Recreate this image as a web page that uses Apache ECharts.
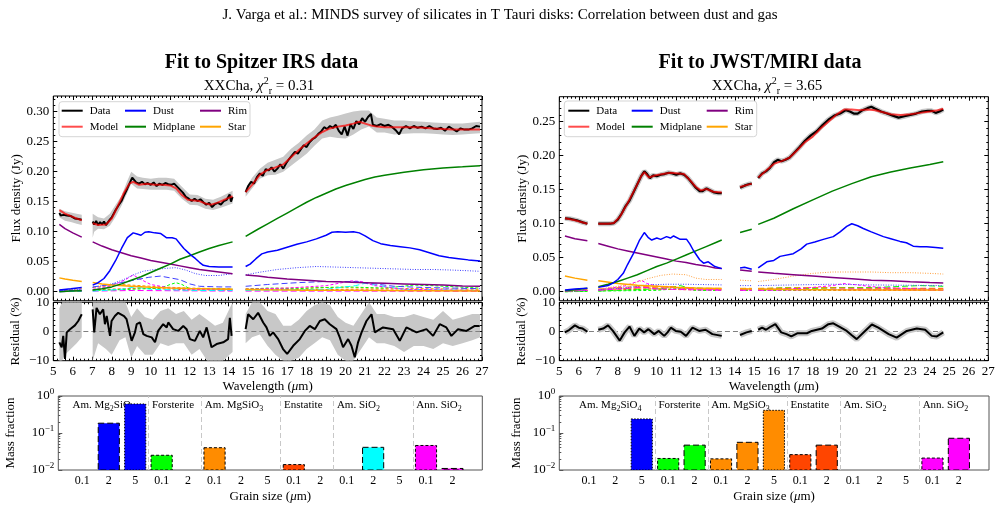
<!DOCTYPE html>
<html>
<head>
<meta charset="utf-8">
<script src="https://cdn.jsdelivr.net/npm/echarts@6/dist/echarts.min.js"></script>
<style>html,body{margin:0;padding:0;background:#fff}#main{width:1001px;height:510px}</style>
</head>
<body>
<div id="main"></div>
<script>
var FONT = '"Liberation Serif","Times New Roman",serif';

// ---------------- Spitzer IRS (left) ----------------
// [wavelength (um), flux (Jy)], null = gap in the spectrum
var dataL = [[5.31,0.131],[5.38,0.127],[5.45,0.124],[5.52,0.128],[5.6,0.125],[5.7,0.127],[5.8,0.124],[5.9,0.126],[6.0,0.124],[6.1,0.122],[6.2,0.123],[6.3,0.121],[6.46,0.12],null,
  [7.02,0.117],[7.1,0.112],[7.2,0.118],[7.3,0.111],[7.4,0.116],[7.5,0.112],[7.6,0.117],[7.7,0.111],[7.8,0.114],[7.9,0.12],[8.0,0.124],[8.1,0.13],[8.2,0.136],[8.35,0.144],[8.5,0.151],[8.65,0.162],[8.8,0.172],[8.95,0.183],[9.05,0.19],[9.15,0.188],[9.25,0.182],[9.4,0.18],[9.55,0.183],[9.7,0.179],[9.85,0.181],[10.0,0.178],[10.15,0.182],[10.3,0.176],[10.45,0.18],[10.6,0.178],[10.75,0.181],[10.9,0.179],[11.05,0.178],[11.2,0.18],[11.35,0.175],[11.5,0.17],[11.65,0.165],[11.8,0.158],[11.95,0.155],[12.1,0.151],[12.25,0.155],[12.4,0.151],[12.55,0.154],[12.7,0.149],[12.85,0.145],[13.0,0.148],[13.15,0.141],[13.3,0.146],[13.45,0.148],[13.6,0.145],[13.75,0.151],[13.9,0.153],[14.05,0.162],[14.12,0.15],[14.2,0.158],null,
  [14.87,0.166],[15.0,0.176],[15.15,0.183],[15.3,0.18],[15.45,0.191],[15.6,0.197],[15.75,0.193],[15.9,0.204],[16.05,0.202],[16.2,0.207],[16.35,0.2],[16.5,0.205],[16.65,0.212],[16.8,0.205],[16.95,0.214],[17.1,0.221],[17.25,0.227],[17.4,0.233],[17.55,0.23],[17.7,0.237],[17.85,0.244],[18.0,0.241],[18.15,0.249],[18.3,0.254],[18.45,0.257],[18.6,0.263],[18.75,0.267],[18.9,0.274],[19.05,0.271],[19.2,0.276],[19.35,0.273],[19.5,0.278],[19.65,0.268],[19.8,0.262],[19.95,0.275],[20.1,0.26],[20.25,0.279],[20.4,0.271],[20.55,0.284],[20.7,0.279],[20.85,0.289],[21.0,0.283],[21.15,0.291],[21.3,0.296],[21.4,0.278],[21.6,0.276],[21.8,0.279],[22.0,0.276],[22.2,0.278],[22.4,0.274],[22.6,0.268],[22.75,0.262],[22.9,0.272],[23.1,0.276],[23.3,0.272],[23.5,0.276],[23.7,0.273],[23.9,0.275],[24.1,0.272],[24.3,0.276],[24.5,0.272],[24.7,0.271],[24.9,0.273],[25.1,0.268],[25.3,0.275],[25.5,0.271],[25.7,0.267],[25.9,0.272],[26.1,0.27],[26.3,0.27],[26.5,0.272],[26.7,0.276],[26.9,0.275]];
var modelL = [[5.31,0.136],[5.6,0.13],[5.9,0.126],[6.2,0.122],[6.46,0.119],null,
  [7.02,0.114],[7.3,0.111],[7.7,0.112],[8.0,0.122],[8.3,0.142],[8.6,0.163],[8.9,0.18],[9.1,0.183],[9.4,0.178],[9.8,0.18],[10.2,0.178],[10.6,0.178],[11.0,0.177],[11.3,0.172],[11.6,0.161],[11.9,0.153],[12.2,0.152],[12.5,0.151],[12.8,0.147],[13.1,0.145],[13.4,0.148],[13.7,0.152],[14.2,0.159],null,
  [14.87,0.166],[15.2,0.178],[15.6,0.195],[16.0,0.203],[16.4,0.207],[16.8,0.212],[17.2,0.224],[17.6,0.236],[18.0,0.247],[18.4,0.257],[18.8,0.266],[19.2,0.272],[19.6,0.275],[20.0,0.277],[20.4,0.28],[20.7,0.283],[21.0,0.28],[21.3,0.277],[21.6,0.275],[22.0,0.274],[22.5,0.274],[23.0,0.274],[23.5,0.274],[24.0,0.273],[24.5,0.272],[25.0,0.271],[25.5,0.27],[26.0,0.27],[26.5,0.27],[26.9,0.27]];
// [wavelength, low, high] of the grey uncertainty band
var bandL = [[5.31,0.124,0.138],[5.6,0.118,0.134],[5.9,0.116,0.132],[6.2,0.113,0.13],[6.46,0.111,0.128],null,
  [7.02,0.09,0.13],[7.1,0.1,0.128],[7.3,0.105,0.124],[7.6,0.104,0.122],[7.9,0.11,0.13],[8.2,0.125,0.145],[8.5,0.143,0.16],[8.8,0.165,0.185],[9.0,0.18,0.2],[9.3,0.172,0.192],[9.6,0.171,0.19],[10.0,0.17,0.188],[10.4,0.17,0.19],[10.8,0.17,0.19],[11.2,0.168,0.188],[11.6,0.155,0.175],[12.0,0.145,0.162],[12.4,0.144,0.161],[12.8,0.138,0.155],[13.2,0.136,0.153],[13.6,0.14,0.158],[14.2,0.147,0.168],null,
  [14.87,0.158,0.172],[15.2,0.172,0.19],[15.6,0.188,0.205],[16.0,0.194,0.215],[16.4,0.195,0.22],[16.8,0.2,0.225],[17.2,0.21,0.238],[17.6,0.22,0.248],[18.0,0.23,0.26],[18.4,0.243,0.27],[18.8,0.255,0.285],[19.2,0.258,0.29],[19.6,0.256,0.293],[20.0,0.255,0.297],[20.4,0.262,0.3],[20.8,0.27,0.302],[21.2,0.275,0.302],[21.6,0.265,0.29],[22.0,0.265,0.288],[22.5,0.262,0.285],[23.0,0.263,0.285],[23.5,0.264,0.284],[24.0,0.264,0.283],[24.5,0.263,0.282],[25.0,0.262,0.281],[25.5,0.261,0.28],[26.0,0.262,0.28],[26.5,0.263,0.282],[26.9,0.264,0.283]];
var dustL = [[5.31,0.003],[5.9,0.005],[6.46,0.007],null,
  [7.02,0.011],[7.3,0.015],[7.6,0.022],[7.9,0.035],[8.2,0.052],[8.5,0.072],[8.8,0.09],[9.1,0.098],[9.3,0.096],[9.5,0.094],[9.7,0.099],[9.9,0.1],[10.2,0.098],[10.5,0.097],[10.8,0.09],[11.1,0.09],[11.3,0.088],[11.5,0.08],[11.7,0.072],[11.9,0.066],[12.1,0.06],[12.3,0.055],[12.5,0.049],[12.7,0.044],[13.0,0.042],[13.5,0.041],[14.2,0.041],null,
  [14.87,0.042],[15.1,0.046],[15.4,0.055],[15.7,0.063],[16.0,0.066],[16.5,0.069],[17.0,0.074],[17.5,0.079],[18.0,0.083],[18.5,0.088],[19.0,0.094],[19.3,0.099],[19.6,0.1],[20.0,0.099],[20.4,0.1],[20.7,0.098],[21.0,0.093],[21.4,0.085],[21.8,0.08],[22.3,0.077],[22.8,0.075],[23.3,0.073],[23.8,0.07],[24.3,0.065],[24.8,0.06],[25.3,0.057],[25.8,0.055],[26.3,0.053],[26.9,0.051]];
var midplaneL = [[5.31,0.0],[5.9,0.001],[6.46,0.0015],null,
  [7.02,0.003],[7.5,0.005],[8.0,0.008],[8.5,0.013],[9.0,0.019],[9.5,0.025],[10.0,0.032],[10.5,0.039],[11.0,0.046],[11.5,0.054],[12.0,0.06],[12.5,0.066],[13.0,0.072],[13.5,0.077],[14.2,0.083],null,
  [14.87,0.092],[15.5,0.104],[16.0,0.113],[16.5,0.122],[17.0,0.131],[17.5,0.14],[18.0,0.149],[18.5,0.157],[19.0,0.164],[19.5,0.171],[20.0,0.177],[20.5,0.182],[21.0,0.187],[21.5,0.191],[22.0,0.194],[23.0,0.199],[24.0,0.203],[25.0,0.206],[26.0,0.208],[26.9,0.21]];
var rimL = [[5.31,0.112],[5.6,0.105],[6.0,0.098],[6.46,0.091],null,
  [7.02,0.083],[7.5,0.076],[8.0,0.07],[8.5,0.065],[9.0,0.06],[9.5,0.056],[10.0,0.052],[10.5,0.049],[11.0,0.046],[11.5,0.043],[12.0,0.04],[12.5,0.037],[13.0,0.035],[13.5,0.033],[14.2,0.03],null,
  [14.87,0.028],[15.5,0.026],[16.0,0.024],[17.0,0.021],[18.0,0.019],[19.0,0.017],[20.0,0.016],[21.0,0.015],[22.0,0.014],[23.0,0.013],[24.0,0.012],[25.0,0.011],[26.0,0.0095],[26.9,0.009]];
var starL = [[5.31,0.023],[5.6,0.021],[6.0,0.019],[6.46,0.017],null,
  [7.02,0.0155],[7.5,0.013],[8.0,0.011],[9.0,0.009],[10.0,0.0075],[11.0,0.0063],[12.0,0.0054],[13.0,0.0047],[14.2,0.004],null,
  [14.87,0.0037],[16,0.0032],[18,0.0026],[20,0.0022],[22,0.0018],[24,0.0015],[26.9,0.0012]];
var mg2sio4_2L = [[5.31,0.001],[6.46,0.003],null,[7.02,0.008],[8.0,0.012],[9.1,0.019],[9.9,0.024],[10.5,0.026],[11.0,0.023],[11.5,0.02],[12.0,0.013],[12.5,0.009],[13.5,0.008],[14.2,0.008],null,[14.87,0.009],[16,0.012],[17.5,0.015],[19,0.017],[20.5,0.017],[21.5,0.013],[22.5,0.009],[24,0.007],[25.5,0.006],[26.9,0.005]];
var mg2sio4_5L = [[5.31,0.002],[6.46,0.004],null,[7.02,0.007],[8.0,0.013],[8.6,0.02],[9.1,0.028],[9.6,0.034],[10.2,0.037],[10.8,0.039],[11.3,0.04],[11.8,0.036],[12.3,0.03],[12.8,0.027],[13.5,0.027],[14.2,0.03],null,[14.87,0.028],[15.5,0.032],[16.5,0.037],[17.5,0.04],[18.5,0.042],[19.5,0.041],[20.5,0.04],[21.5,0.039],[22.5,0.038],[23.5,0.037],[24.5,0.037],[25.5,0.036],[26.9,0.034]];
var fo01L = [[5.31,0.001],[6.46,0.002],null,[7.02,0.002],[9,0.004],[10.5,0.006],[11.0,0.012],[11.3,0.015],[11.6,0.012],[12.0,0.005],[14.2,0.004],null,[14.87,0.004],[16,0.006],[17.5,0.005],[19,0.007],[20,0.008],[22,0.006],[23.5,0.011],[24.5,0.01],[26.9,0.006]];
var mgsio3_01L = [[5.31,0.003],[6.46,0.005],null,[7.02,0.007],[8.5,0.012],[9.5,0.01],[10.5,0.008],[12,0.006],[14.2,0.005],null,[14.87,0.005],[17,0.006],[19,0.007],[21,0.006],[24,0.005],[26.9,0.004]];
var en01L = [[5.31,0.001],[6.46,0.002],null,[7.02,0.003],[9.5,0.006],[10.5,0.005],[12,0.003],[14.2,0.003],null,[14.87,0.003],[18,0.004],[21,0.003],[26.9,0.002]];
var sio2_2L = [[5.31,0.0],[6.46,0.001],null,[7.02,0.001],[8.5,0.004],[9.2,0.008],[10,0.004],[12.5,0.002],[14.2,0.002],null,[14.87,0.002],[19,0.004],[20.5,0.01],[21,0.014],[21.5,0.011],[23,0.004],[26.9,0.002]];
var annsio2_01L = [[5.31,0.001],[6.46,0.002],null,[7.02,0.004],[8.0,0.01],[8.7,0.02],[9.1,0.028],[9.4,0.022],[10,0.012],[11,0.006],[12,0.004],[14.2,0.003],null,[14.87,0.004],[17,0.006],[19,0.01],[20.3,0.018],[20.8,0.017],[21.5,0.01],[23,0.004],[26.9,0.002]];
var annsio2_2L = [[5.31,0.0],[6.46,0.0005],null,[7.02,0.001],[9.1,0.002],[14.2,0.001],null,[14.87,0.001],[20.5,0.001],[26.9,0.0005]];
// residual (%)
var resL = [[5.31,-3.7],[5.43,-5.4],[5.51,-1.5],[5.6,-9.4],[5.69,-0.3],[5.86,0.8],[6.11,2.1],[6.28,3.6],[6.46,5.9],null,
  [7.02,7.6],[7.1,-0.3],[7.22,8.1],[7.39,5.9],[7.56,7.6],[7.65,2.5],[7.74,5.3],[7.91,-1.5],[7.99,3.6],[8.16,5.3],[8.33,6.4],[8.42,5.9],[8.63,5.3],[8.76,4.2],[9.02,-3.2],[9.19,-0.3],[9.28,2.5],[9.45,3.1],[9.62,-0.9],[9.79,-1.5],[10.05,-2.0],[10.22,-3.7],[10.38,0.2],[10.64,2.5],[10.82,1.4],[10.9,3.1],[11.15,0.8],[11.41,0.2],[11.67,1.9],[11.84,0.8],[12.01,-2.6],[12.27,-3.2],[12.52,0.2],[12.69,-2.0],[12.87,1.4],[13.12,-5.4],[13.38,-4.3],[13.72,-3.7],[13.97,-2.6],[14.06,4.7],[14.15,-1.5],null,
  [14.87,0.8],[15.0,5.9],[15.26,4.2],[15.51,6.4],[15.77,3.1],[15.94,1.4],[16.11,-1.5],[16.28,-0.3],[16.54,-2.6],[16.79,-6.0],[17.0,-7.7],[17.31,-4.9],[17.65,-2.6],[17.91,0.2],[18.16,1.9],[18.42,0.8],[18.68,3.6],[18.93,4.2],[19.19,2.5],[19.53,0.8],[19.7,-2.0],[19.87,-5.4],[20.13,-2.6],[20.3,-4.9],[20.47,-8.8],[20.64,-3.7],[20.82,-0.3],[21.07,3.6],[21.33,5.9],[21.5,-0.3],[21.92,1.4],[22.44,0.8],[22.78,-3.2],[23.12,1.4],[23.64,-0.3],[24.15,0.8],[24.49,-1.5],[24.83,2.5],[25.17,1.4],[25.43,-1.5],[25.77,0.8],[26.2,0.2],[26.63,1.9],[26.88,1.9]];
var resBandL = [[5.31,-10,8],[5.45,-10,10],[5.6,-8,10],[5.9,-6,10],[6.2,-4,10],[6.46,-2,10],null,
  [7.02,-10,10],[7.3,-4,10],[7.7,-6,10],[8.0,-8,10],[8.4,-3,10],[8.7,-2,10],[9.0,-9,5],[9.3,-5,8],[9.7,-8,5],[10.1,-8,4],[10.5,-4,7],[10.9,-5,8],[11.3,-4,6],[11.7,-4,7],[12.1,-8,4],[12.5,-6,6],[12.9,-10,4],[13.3,-10,2],[13.7,-10,3],[14.2,-7,10],null,
  [14.87,-4,6],[15.2,-2,10],[15.6,-1,10],[16.0,-5,7],[16.4,-8,6],[16.8,-10,2],[17.2,-10,2],[17.6,-9,4],[18.0,-6,7],[18.4,-4,9],[18.8,-2,10],[19.2,-3,9],[19.6,-8,5],[20.0,-10,3],[20.4,-10,2],[20.8,-6,6],[21.2,-2,10],[21.6,-4,6],[22.0,-4,6],[22.5,-5,5],[23.0,-7,5],[23.5,-5,6],[24.0,-5,5],[24.5,-6,4],[25.0,-4,7],[25.5,-5,4],[26.0,-4,5],[26.5,-3,6],[26.9,-2,6]];

// ---------------- JWST/MIRI (right) ----------------
var dataR = [[5.29,0.108],[5.6,0.107],[5.9,0.105],[6.2,0.102],[6.44,0.1],null,
  [7.0,0.1],[7.3,0.1],[7.6,0.1],[7.8,0.101],[8.0,0.106],[8.2,0.115],[8.4,0.126],[8.6,0.134],[8.8,0.146],[9.0,0.158],[9.2,0.17],[9.36,0.177],[9.5,0.173],[9.65,0.167],[9.8,0.171],[10.0,0.17],[10.2,0.172],[10.4,0.173],[10.6,0.175],[10.8,0.174],[11.0,0.172],[11.2,0.174],[11.4,0.172],[11.6,0.167],[11.8,0.16],[12.0,0.153],[12.2,0.148],[12.35,0.148],[12.55,0.152],[12.75,0.149],[12.95,0.146],[13.15,0.145],[13.33,0.145],null,
  [14.27,0.153],[14.5,0.156],[14.7,0.158],[14.87,0.159],null,
  [15.2,0.167],[15.4,0.174],[15.6,0.177],[15.8,0.182],[16.0,0.19],[16.2,0.194],[16.4,0.192],[16.6,0.194],[16.8,0.197],[17.0,0.203],[17.3,0.212],[17.6,0.222],[17.9,0.23],[18.2,0.236],[18.5,0.245],[18.8,0.253],[19.1,0.259],[19.4,0.262],[19.7,0.267],[19.9,0.265],[20.1,0.262],[20.3,0.262],[20.5,0.266],[20.8,0.27],[21.0,0.272],[21.2,0.269],[21.5,0.265],[21.8,0.262],[22.1,0.259],[22.4,0.256],[22.7,0.258],[23.0,0.26],[23.3,0.262],[23.6,0.265],[23.9,0.266],[24.1,0.266],[24.3,0.263],[24.5,0.265],[24.69,0.268]];
var modelR = [[5.29,0.108],[5.8,0.105],[6.44,0.1],null,
  [7.0,0.1],[7.5,0.1],[7.8,0.101],[8.1,0.11],[8.5,0.13],[8.9,0.152],[9.2,0.17],[9.36,0.176],[9.6,0.168],[9.9,0.171],[10.3,0.173],[10.7,0.175],[11.1,0.174],[11.4,0.173],[11.7,0.164],[12.0,0.154],[12.25,0.149],[12.55,0.151],[12.9,0.147],[13.33,0.146],null,
  [14.27,0.154],[14.87,0.159],null,
  [15.2,0.168],[15.6,0.178],[16.0,0.188],[16.4,0.192],[16.8,0.197],[17.2,0.208],[17.6,0.22],[18.0,0.228],[18.4,0.24],[18.8,0.25],[19.2,0.26],[19.6,0.268],[20.0,0.268],[20.4,0.267],[20.8,0.268],[21.2,0.267],[21.6,0.264],[22.0,0.261],[22.5,0.26],[23.0,0.261],[23.5,0.263],[24.0,0.265],[24.4,0.267],[24.69,0.269]];
var dustR = [[5.29,0.0025],[5.8,0.004],[6.44,0.005],null,
  [7.0,0.0064],[7.5,0.009],[7.77,0.013],[8.0,0.018],[8.28,0.027],[8.5,0.04],[8.8,0.056],[9.1,0.075],[9.36,0.087],[9.55,0.08],[9.74,0.076],[10.0,0.079],[10.2,0.077],[10.5,0.081],[10.7,0.079],[10.86,0.082],[11.2,0.077],[11.53,0.077],[11.7,0.07],[11.87,0.061],[12.2,0.047],[12.4,0.042],[12.64,0.044],[12.98,0.037],[13.33,0.034],null,
  [14.27,0.035],[14.5,0.036],[14.87,0.033],null,
  [15.2,0.035],[15.64,0.044],[16.0,0.046],[16.32,0.052],[17.0,0.056],[17.4,0.063],[17.69,0.07],[18.1,0.073],[18.54,0.077],[19.05,0.081],[19.4,0.088],[19.74,0.096],[20.0,0.1],[20.3,0.097],[20.59,0.093],[21.0,0.088],[21.62,0.081],[22.0,0.078],[22.47,0.074],[22.8,0.072],[23.15,0.067],[23.5,0.066],[23.84,0.066],[24.3,0.065],[24.69,0.064]];
var midplaneR = [[5.29,0.0015],[5.8,0.003],[6.44,0.005],null,
  [7.0,0.0074],[7.5,0.011],[8.0,0.015],[8.5,0.02],[9.0,0.025],[9.5,0.031],[10.0,0.037],[10.5,0.042],[11.0,0.048],[11.5,0.054],[12.0,0.06],[12.5,0.066],[13.0,0.072],[13.33,0.076],null,
  [14.27,0.087],[14.87,0.092],null,
  [15.2,0.099],[16.0,0.108],[17.0,0.122],[18.0,0.135],[19.0,0.148],[20.0,0.159],[21.0,0.169],[22.0,0.176],[23.0,0.182],[24.0,0.187],[24.69,0.191]];
var rimR = [[5.29,0.082],[5.8,0.078],[6.44,0.075],null,
  [7.0,0.071],[7.5,0.067],[8.0,0.063],[8.5,0.06],[9.0,0.057],[9.5,0.054],[10.0,0.051],[10.5,0.048],[11.0,0.045],[11.5,0.043],[12.0,0.04],[12.5,0.038],[13.0,0.035],[13.33,0.034],null,
  [14.27,0.032],[14.87,0.03],null,
  [15.2,0.029],[16,0.027],[17,0.025],[18,0.023],[19,0.021],[20,0.019],[21,0.017],[22,0.016],[23,0.0145],[24,0.0135],[24.69,0.013]];
var starR = [[5.29,0.023],[5.8,0.02],[6.44,0.017],null,
  [7.0,0.016],[8,0.012],[9,0.0095],[10,0.008],[11,0.0065],[12,0.0055],[13.33,0.0049],null,
  [14.27,0.0043],[14.87,0.004],null,
  [15.2,0.0039],[17,0.0033],[19,0.0029],[21,0.0027],[23,0.0025],[24.69,0.0024]];
var mgsio3_5R = [[5.29,0.001],[6.44,0.003],null,[7.0,0.004],[8.0,0.008],[8.8,0.012],[9.5,0.019],[10.2,0.024],[10.8,0.026],[11.5,0.025],[12.0,0.02],[12.5,0.018],[13.33,0.018],null,[14.27,0.017],[14.87,0.016],null,[15.2,0.015],[16.0,0.018],[17.0,0.023],[18.0,0.027],[19.0,0.029],[20.0,0.029],[21.0,0.029],[22.0,0.028],[23.0,0.028],[24.0,0.027],[24.69,0.026]];
var mgsio3_2R = [[5.29,0.002],[6.44,0.003],null,[7.0,0.004],[9,0.008],[10,0.007],[12,0.005],[13.33,0.005],null,[14.27,0.005],[14.87,0.005],null,[15.2,0.005],[18,0.006],[21,0.005],[24.69,0.004]];
var mgsio3_01R = [[5.29,0.001],[6.44,0.002],null,[7.0,0.003],[9.3,0.006],[10.5,0.004],[13.33,0.003],null,[14.27,0.003],[14.87,0.003],null,[15.2,0.003],[24.69,0.003]];
var mg2sio4_5R = [[5.29,0.001],[6.44,0.002],null,[7.0,0.003],[8.5,0.006],[9.5,0.01],[10.5,0.011],[11.5,0.011],[13.33,0.01],null,[14.27,0.009],[14.87,0.009],null,[15.2,0.009],[17,0.01],[19,0.011],[21,0.01],[24.69,0.009]];
var annsio2_01R = [[5.29,0.001],[6.44,0.002],null,[7.0,0.003],[8.3,0.008],[8.9,0.014],[9.2,0.017],[9.5,0.012],[10.2,0.007],[11.5,0.005],[13.33,0.003],null,[14.27,0.003],[14.87,0.003],null,[15.2,0.003],[17.5,0.005],[19.0,0.009],[19.6,0.012],[20.3,0.01],[21.5,0.006],[24.69,0.003]];
var annsio2_2R = [[5.29,0.001],[6.44,0.002],null,[7.0,0.002],[8.9,0.006],[9.2,0.007],[10,0.004],[13.33,0.002],null,[14.27,0.002],[14.87,0.002],null,[15.2,0.002],[20.2,0.004],[24.69,0.002]];
var fo2R = [[5.29,0.0],[6.44,0.001],null,[7.0,0.001],[9,0.003],[10.5,0.005],[11.2,0.009],[11.6,0.006],[13.33,0.004],null,[14.27,0.004],[14.87,0.004],null,[15.2,0.004],[16.5,0.006],[18,0.005],[19.5,0.006],[21,0.006],[23.5,0.009],[24.69,0.008]];
var fo01R = [[5.29,0.0],[6.44,0.0005],null,[7.0,0.001],[10,0.002],[11.2,0.005],[12,0.002],[13.33,0.002],null,[14.27,0.002],[14.87,0.002],null,[15.2,0.002],[19,0.003],[23.5,0.004],[24.69,0.003]];
var en2R = [[5.29,0.001],[6.44,0.002],null,[7.0,0.003],[9.5,0.006],[10.6,0.008],[11.5,0.005],[13.33,0.004],null,[14.27,0.004],[14.87,0.004],null,[15.2,0.004],[19,0.006],[23,0.005],[24.69,0.005]];
var en01R = [[5.29,0.0005],[6.44,0.001],null,[7.0,0.002],[9.5,0.004],[13.33,0.002],null,[14.27,0.002],[14.87,0.002],null,[15.2,0.002],[24.69,0.002]];
var resR = [[5.28,-0.3],[5.5,0.5],[5.8,2.1],[6.0,1.3],[6.2,1.0],[6.44,-0.1],null,
  [7.0,0.6],[7.25,1.0],[7.5,2.1],[7.75,0.2],[8.1,-3.1],[8.35,-0.3],[8.6,1.7],[8.85,-1.5],[9.1,1.0],[9.35,-0.3],[9.57,0.8],[9.87,-0.9],[10.1,0.2],[10.38,-1.5],[10.55,-0.3],[10.72,1.3],[10.97,0.2],[11.23,-0.1],[11.5,-1.5],[11.83,1.3],[12.17,0.2],[12.5,0.6],[12.85,-0.9],[13.33,-1.5],null,
  [14.27,-1.2],[14.6,-0.3],[14.87,0.2],null,
  [15.2,0.6],[15.4,1.3],[15.6,0.6],[15.85,1.7],[16.08,2.5],[16.38,-0.3],[16.65,-0.9],[16.9,-1.7],[17.2,-0.6],[17.7,-0.6],[17.95,0.2],[18.47,1.0],[18.8,2.5],[19.05,2.8],[19.4,1.5],[19.74,0.2],[20.0,-1.3],[20.25,-2.6],[20.68,0.2],[21.03,2.4],[21.36,1.3],[21.89,-0.9],[22.3,-2.1],[22.82,0.2],[23.33,1.0],[23.76,0.6],[24.1,-1.5],[24.36,-1.7],[24.69,-0.3]];

// ---------------- mass fractions ----------------
var grainLabels = ['0.1','2','5','0.1','2','0.1','2','5','0.1','2','0.1','2','5','0.1','2'];
var speciesNames = ['Am. Mg{d|2}SiO{d|4}','Forsterite','Am. MgSiO{d|3}','Enstatite','Am. SiO{d|2}','Ann. SiO{d|2}'];
var speciesOf = [0,0,0,1,1,2,2,2,3,3,4,4,4,5,5];
var massL = [null,0.184,0.61,0.025,null,0.04,null,null,0.014,null,null,0.041,null,0.046,0.011];
var massR = [null,null,0.24,0.0205,0.047,0.02,0.056,0.41,0.026,0.047,null,null,null,0.021,0.072];

var fluxTicksL = [0,0.05,0.10,0.15,0.20,0.25,0.30];
var fluxTicksR = [0,0.05,0.10,0.15,0.20,0.25];

var speciesColors = ['#0000ff','#00ff00','#ff8c00','#ff4500','#00ffff','#ff00ff'];
var sizeDash = {'0.1': [3, 2], '2': [6, 3], '5': [1.5, 1.5]};

var myChart = echarts.init(document.getElementById('main'));

var grid = [], xAxis = [], yAxis = [], series = [];
var TICK = {color: '#000', width: 1};
var GTICK = {color: '#555', width: 1};
var LBL = {color: '#000', fontSize: 13, fontFamily: FONT};
var NAME = {color: '#000', fontSize: 13, fontFamily: FONT, rich: {i: {fontStyle: 'italic', fontSize: 13, fontFamily: FONT, color: '#000'}}};
var NOLINE = {show: false, onZero: false};

function addGrid(left, top, width, height, border) {
    grid.push({left: left, top: top, width: width, height: height, show: true,
        borderColor: border || '#000', borderWidth: 1, containLabel: false});
    return grid.length - 1;
}
function add(list, opt) { list.push(opt); return list.length - 1; }

function waveAxis(g, pos, labels) {
    return add(xAxis, {
        type: 'value', gridIndex: g, position: pos, min: 5, max: 27, interval: 1,
        axisLine: NOLINE, splitLine: {show: false},
        axisTick: {inside: true, length: 4, lineStyle: TICK},
        minorTick: {show: true, splitNumber: 5, length: 2, lineStyle: TICK},
        axisLabel: Object.assign({show: labels, margin: 4}, LBL),
        name: labels ? 'Wavelength ({i|\u03bc}m)' : '', nameLocation: 'middle', nameGap: 19, nameTextStyle: NAME
    });
}

function fluxAxes(g, min, max, ticks, gap) {
    var minor = [], main;
    for (var k = 0; k <= Math.round(max * 100); k++) minor.push(k / 100);
    ['left', 'right'].forEach(function (pos) {
        var a = add(yAxis, {
            type: 'value', gridIndex: g, position: pos, min: min, max: max,
            axisLine: NOLINE, splitLine: {show: false},
            axisTick: {inside: true, length: 4, lineStyle: TICK, customValues: ticks},
            axisLabel: Object.assign({show: pos === 'left', customValues: ticks, margin: 4,
                formatter: function (v) { return v.toFixed(2); }}, LBL),
            name: pos === 'left' ? 'Flux density (Jy)' : '', nameLocation: 'middle', nameGap: gap, nameTextStyle: NAME
        });
        if (pos === 'left') main = a;
        add(yAxis, {
            type: 'value', gridIndex: g, position: pos, min: min, max: max,
            axisLine: NOLINE, splitLine: {show: false},
            axisTick: {inside: true, length: 2, lineStyle: TICK, customValues: minor},
            axisLabel: {show: false}
        });
    });
    return main;
}

function resAxes(g, gap) {
    var main;
    ['left', 'right'].forEach(function (pos) {
        var a = add(yAxis, {
            type: 'value', gridIndex: g, position: pos, min: -10, max: 10, interval: 10,
            axisLine: NOLINE, splitLine: {show: false},
            axisTick: {inside: true, length: 4, lineStyle: TICK},
            minorTick: {show: true, splitNumber: 5, length: 2, lineStyle: TICK},
            axisLabel: Object.assign({show: pos === 'left', margin: 4,
                formatter: function (v) { return v < 0 ? '\u2212' + (-v) : '' + v; }}, LBL),
            name: pos === 'left' ? 'Residual (%)' : '', nameLocation: 'middle', nameGap: gap, nameTextStyle: NAME
        });
        if (pos === 'left') main = a;
    });
    return main;
}

function massAxes(g, gap) {
    var minor = [];
    [0.01, 0.1].forEach(function (d) { for (var m = 2; m <= 9; m++) minor.push(+(d * m).toPrecision(3)); });
    var main = add(yAxis, {
        type: 'log', logBase: 10, gridIndex: g, position: 'left', min: 0.01, max: 1,
        axisLine: NOLINE, splitLine: {show: false},
        axisTick: {inside: true, length: 4, lineStyle: GTICK},
        axisLabel: Object.assign({margin: 4, formatter: function (v) {
            var e = Math.round(Math.log(v) / Math.LN10);
            return '10{s|' + (e < 0 ? '\u2212' + (-e) : e) + '}';
        }, rich: {s: {fontSize: 9, lineHeight: 9, verticalAlign: 'top', fontFamily: FONT, color: '#000'}}, lineHeight: 18}, LBL),
        name: 'Mass fraction', nameLocation: 'middle', nameGap: gap, nameTextStyle: NAME
    });
    add(yAxis, {
        type: 'log', logBase: 10, gridIndex: g, position: 'left', min: 0.01, max: 1,
        axisLine: NOLINE, splitLine: {show: false},
        axisTick: {inside: true, length: 2, lineStyle: GTICK, customValues: minor},
        axisLabel: {show: false}
    });
    return main;
}

function grainAxis(g, min, max) {
    return add(xAxis, {
        type: 'value', gridIndex: g, min: min, max: max,
        axisLine: NOLINE, splitLine: {show: false}, axisTick: {show: false},
        axisLabel: Object.assign({margin: 5, customValues: grainLabels.map(function (s, i) { return i; }),
            formatter: function (v) { return grainLabels[Math.round(v)]; }}, LBL, {fontSize: 12}),
        name: 'Grain size ({i|\u03bc}m)', nameLocation: 'middle', nameGap: 20, nameTextStyle: NAME
    });
}

function pts(arr) { return arr.map(function (p) { return p ? p : ['-', '-']; }); }

function line(name, arr, x, y, color, width, dash, z) {
    series.push({
        type: 'line', name: name, xAxisIndex: x, yAxisIndex: y, data: pts(arr),
        symbol: 'none', showSymbol: false, silent: true, animation: false, clip: true,
        z: z || 2, lineStyle: {color: color, width: width, type: dash || 'solid'},
        itemStyle: {color: color}, emphasis: {disabled: true}
    });
}

function band(arr, x, y, z) {
    series.push({
        type: 'custom', xAxisIndex: x, yAxisIndex: y, z: z, silent: true, clip: true, animation: false,
        data: [[arr[0][0], arr[0][1]]],
        renderItem: function (params, api) {
            var segs = [[]];
            arr.forEach(function (p) { if (!p) segs.push([]); else segs[segs.length - 1].push(p); });
            return {type: 'group', children: segs.filter(function (s) { return s.length > 1; }).map(function (s) {
                var up = s.map(function (p) { return api.coord([p[0], p[2]]); });
                var lo = s.map(function (p) { return api.coord([p[0], p[1]]); }).reverse();
                return {type: 'polygon', shape: {points: up.concat(lo)}, style: {fill: '#c8c8c8'}};
            })};
        }
    });
}

function bars(vals, x, y) {
    var groupStart = [];
    speciesOf.forEach(function (s, i) { if (i === 0 || speciesOf[i - 1] !== s) groupStart.push(i); });
    // group names
    series.push({
        type: 'custom', xAxisIndex: x, yAxisIndex: y, z: 2, silent: true, animation: false,
        data: groupStart.map(function (i) { return [i, 0.5]; }),
        renderItem: function (params, api) {
            var i = api.value(0), p = api.coord([i - 0.37, 0.55]);
            return {type: 'text', x: p[0], y: p[1], style: {
                text: speciesNames[speciesOf[i]], fill: '#000', fontFamily: FONT, fontSize: 11,
                textAlign: 'left', textVerticalAlign: 'middle', verticalAlign: 'middle', lineHeight: 14,
                rich: {d: {fontSize: 8, lineHeight: 8, verticalAlign: 'bottom', fontFamily: FONT, fill: '#000'}}
            }};
        },
        markLine: {silent: true, symbol: 'none', animation: false, label: {show: false},
            lineStyle: {color: '#c8c8c8', type: [5, 3], width: 1},
            data: groupStart.slice(1).map(function (i) { return {xAxis: i - 0.5}; })}
    });
    var d = [];
    vals.forEach(function (v, i) { if (v != null) d.push([i, v]); });
    series.push({
        type: 'custom', xAxisIndex: x, yAxisIndex: y, z: 3, silent: true, animation: false, clip: true,
        data: d,
        renderItem: function (params, api) {
            var i = api.value(0), v = api.value(1);
            var a = api.coord([i - 0.4, v]), b = api.coord([i + 0.4, 0.01]);
            return {type: 'rect', shape: {x: a[0], y: a[1], width: b[0] - a[0], height: b[1] - a[1]},
                style: {fill: speciesColors[speciesOf[i]], stroke: '#000', lineWidth: 1, lineDash: sizeDash[grainLabels[i]]}};
        }
    });
}

// ---------- layout ----------
var gTL = addGrid(53.3, 96, 428.7, 204.7);
var gRL = addGrid(53.3, 302.3, 428.7, 58.4);
var gBL = addGrid(58.3, 396, 424, 74, '#555');
var gTR = addGrid(559.3, 96.7, 429, 204);
var gRR = addGrid(559.3, 302.3, 429, 58.4);
var gBR = addGrid(559.3, 396, 429.7, 74, '#555');

var xTL = waveAxis(gTL, 'bottom', false); waveAxis(gTL, 'top', false);
var yTL = fluxAxes(gTL, -0.015, 0.326, fluxTicksL, 30);
var xRL = waveAxis(gRL, 'bottom', true); waveAxis(gRL, 'top', false);
var yRL = resAxes(gRL, 31);
var xBL = grainAxis(gBL, -0.91, 15.13);
var yBL = massAxes(gBL, 41);

var xTR = waveAxis(gTR, 'bottom', false); waveAxis(gTR, 'top', false);
var yTR = fluxAxes(gTR, -0.0132, 0.2868, fluxTicksR, 29);
var xRR = waveAxis(gRR, 'bottom', true); waveAxis(gRR, 'top', false);
var yRR = resAxes(gRR, 31);
var xBR = grainAxis(gBR, -1.12, 15.14);
var yBR = massAxes(gBR, 36);

// ---------- left spectra ----------
band(bandL, xTL, yTL, 1);
line('c1', annsio2_2L, xTL, yTL, '#ff00ff', 1, [6, 3]);
line('c2', en01L, xTL, yTL, '#ff4500', 1, [3, 2]);
line('c3', mgsio3_01L, xTL, yTL, '#ff8c00', 1, [3, 2]);
line('c4', fo01L, xTL, yTL, '#00ff00', 1, [3, 2]);
line('c5', sio2_2L, xTL, yTL, '#00ffff', 1, [6, 3]);
line('c6', annsio2_01L, xTL, yTL, '#ff00ff', 1, [3, 2]);
line('c7', mg2sio4_2L, xTL, yTL, '#4040ff', 1, [6, 3]);
line('c8', mg2sio4_5L, xTL, yTL, '#4040ff', 1, [1, 1.5]);
line('Star', starL, xTL, yTL, '#ffa500', 1.5);
line('Rim', rimL, xTL, yTL, '#800080', 1.5);
line('Midplane', midplaneL, xTL, yTL, '#008000', 1.5);
line('Dust', dustL, xTL, yTL, '#0000ff', 1.5);
line('Data', dataL, xTL, yTL, '#000000', 2, null, 4);
line('Model', modelL, xTL, yTL, 'rgba(255,0,0,0.7)', 2, null, 5);

band(resBandL, xRL, yRL, 1);
line('zeroL', [[5.31, 0], [26.9, 0]], xRL, yRL, '#808080', 1.2, [5, 3], 3);
line('resL', resL, xRL, yRL, '#000000', 2, null, 4);

bars(massL, xBL, yBL);

// ---------- right spectra ----------
line('c9', en01R, xTR, yTR, '#ff4500', 1, [3, 2]);
line('c10', en2R, xTR, yTR, '#ff4500', 1, [6, 3]);
line('c11', fo01R, xTR, yTR, '#00ff00', 1, [3, 2]);
line('c12', fo2R, xTR, yTR, '#00ff00', 1, [6, 3]);
line('c13', mgsio3_01R, xTR, yTR, '#ff8c00', 1, [3, 2]);
line('c14', mgsio3_2R, xTR, yTR, '#ff8c00', 1, [6, 3]);
line('c15', annsio2_2R, xTR, yTR, '#ff00ff', 1, [6, 3]);
line('c16', annsio2_01R, xTR, yTR, '#ff00ff', 1, [3, 2]);
line('c17', mg2sio4_5R, xTR, yTR, '#4040ff', 1, [1, 1.5]);
line('c18', mgsio3_5R, xTR, yTR, '#ffa040', 1, [1, 1.5]);
line('Star', starR, xTR, yTR, '#ffa500', 1.5);
line('Rim', rimR, xTR, yTR, '#800080', 1.5);
line('Midplane', midplaneR, xTR, yTR, '#008000', 1.5);
line('Dust', dustR, xTR, yTR, '#0000ff', 1.5);
line('errR', dataR, xTR, yTR, '#c8c8c8', 5, null, 3);
line('Data', dataR, xTR, yTR, '#000000', 2.2, null, 4);
line('Model', modelR, xTR, yTR, 'rgba(255,0,0,0.7)', 2, null, 5);

line('zeroR', [[5.29, 0], [24.69, 0]], xRR, yRR, '#808080', 1.2, [5, 3], 3);
line('errRes', resR, xRR, yRR, '#c8c8c8', 6, null, 3);
line('resR', resR, xRR, yRR, '#000000', 2, null, 4);

bars(massR, xBR, yBR);

// ---------- legends ----------
function legendCol(left, top, names) {
    return {
        left: left, top: top, orient: 'vertical', padding: 0, itemGap: 2,
        itemWidth: 21, itemHeight: 2, icon: 'rect', selectedMode: false, data: names,
        textStyle: {fontFamily: FONT, fontSize: 11, color: '#000', lineHeight: 14, padding: [0, 0, 0, 2]}
    };
}
var legend = [
    legendCol(61.7, 103.7, ['Data', 'Model']), legendCol(125, 103.7, ['Dust', 'Midplane']), legendCol(200, 103.7, ['Rim', 'Star']),
    legendCol(568.3, 103.7, ['Data', 'Model']), legendCol(631.7, 103.7, ['Dust', 'Midplane']), legendCol(706.7, 103.7, ['Rim', 'Star'])
];

var T = function (x, y, text, size, extra) {
    return {type: 'text', x: x, y: y, z: 10, style: Object.assign({text: text, fill: '#000', fontFamily: FONT,
        fontSize: size, textAlign: 'center', textVerticalAlign: 'middle', verticalAlign: 'middle'}, extra || {})};
};
var chiRich = {
    i: {fontStyle: 'italic', fontSize: 15, fontFamily: FONT, fill: '#000'},
    p: {fontSize: 10, lineHeight: 10, verticalAlign: 'top', fontFamily: FONT, fill: '#000'},
    b: {fontSize: 10, lineHeight: 10, verticalAlign: 'bottom', fontFamily: FONT, fill: '#000'}
};

var option = {
    animation: false,
    textStyle: {fontFamily: FONT},
    grid: grid, xAxis: xAxis, yAxis: yAxis, series: series, legend: legend,
    graphic: [
        T(500, 15, 'J. Varga et al.: MINDS survey of silicates in T Tauri disks: Correlation between dust and gas', 15),
        T(261.5, 63, 'Fit to Spitzer IRS data', 20, {fontWeight: 'bold'}),
        T(760, 63, 'Fit to JWST/MIRI data', 20, {fontWeight: 'bold'}),
        T(259, 86, 'XXCha, {i|\u03c7}{p|2}{b|r} = 0.31', 15, {lineHeight: 20, rich: chiRich}),
        T(767, 86, 'XXCha, {i|\u03c7}{p|2}{b|r} = 3.65', 15, {lineHeight: 20, rich: chiRich}),
        {type: 'rect', z: 3, shape: {x: 59, y: 101.7, width: 191, height: 35, r: 3},
            style: {fill: 'rgba(255,255,255,0.8)', stroke: '#d5d5d5', lineWidth: 1}},
        {type: 'rect', z: 3, shape: {x: 564.3, y: 101, width: 192.4, height: 35.7, r: 3},
            style: {fill: 'rgba(255,255,255,0.8)', stroke: '#d5d5d5', lineWidth: 1}}
    ]
};

myChart.setOption(option);
</script>
</body>
</html>
